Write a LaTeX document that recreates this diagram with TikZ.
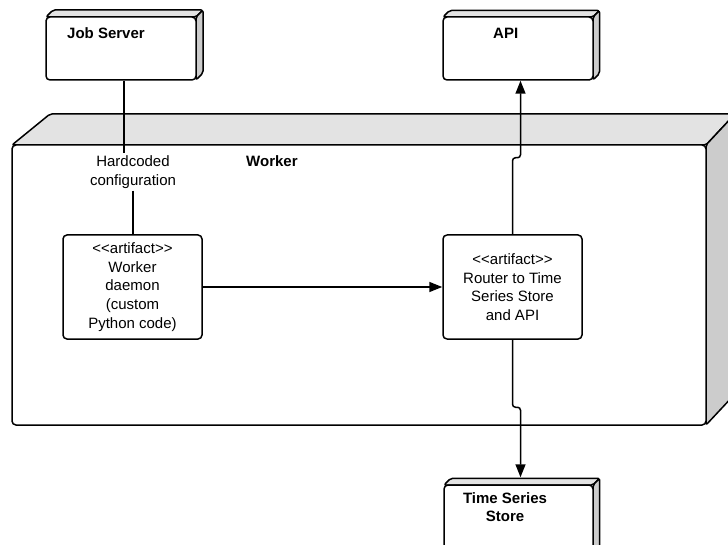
\documentclass[tikz,border=0pt]{standalone}
\usepackage{fontspec}
\setmainfont{Liberation Sans}[Ligatures=TeXOff]
\usetikzlibrary{arrows.meta,calc,fit}

\definecolor{bandgrey}{HTML}{E3E3E3}
\definecolor{sidegrey}{HTML}{CCCCCC}

\tikzset{
  outline/.style={draw=black, line width=1.5pt, line join=round},
  face/.style={outline, fill=white, rounded corners=4pt, inner sep=0pt},
  band/.style={outline, fill=bandgrey, rounded corners=2pt},
  side/.style={outline, fill=sidegrey, rounded corners=2pt},
  title/.style={font=\fontsize{15}{18.5}\selectfont\bfseries, inner sep=0pt},
  plain/.style={font=\fontsize{15}{18.7}\selectfont, align=center, inner sep=0pt},
  conn/.style={line width=1.5pt},
  flow/.style={conn, -{Triangle[length=13pt,width=10pt]}},
}

% UML node drawn as a box with a top band and a shaded right side
% #1 name, #2 #3 top-left of the front face, #4 #5 bottom-right, #6 depth
\newcommand\solidnode[6]{%
  \path[band] (#2,#3) -- (#2+#6,#3-#6) -- (#4+#6,#3-#6) -- (#4,#3) -- cycle;
  \path[side] (#4,#3) -- (#4+#6,#3-#6) -- (#4+#6,#5-#6) -- (#4,#5) -- cycle;
  \node[face, fit={(#2,#3) (#4,#5)}] (#1) {};
}

\begin{document}
\begin{tikzpicture}[x=1pt, y=-1pt]
  \useasboundingbox (0,0) rectangle (728,545);
  \fill[white] (0,0) rectangle (728,545);
  \clip (0,0) rectangle (728,545);

  % outer nodes
  \solidnode{js}{46}{17}{196}{80}{7}
  \solidnode{api}{443}{17}{593}{80}{6.5}
  \solidnode{ts}{444}{485}{593}{570}{6.7}

  % the Worker node
  \path[band] (12,145) -- (50,114) -- (735,114) -- (706,145) -- cycle;
  \path[side] (706,145) -- (735,114) -- (735,394) -- (706,425) -- cycle;
  \node[face, fit={(12,145) (706,425)}] (worker) {};

  % titles
  \node[title, anchor=base west] at (67,38.3) {Job Server};
  \node[title, anchor=base west] at (493,38.3) {API};
  \node[title, anchor=base west] at (246,166.5) {Worker};
  \node[title, align=center] at (505,507) {Time Series\\Store};

  % artifacts
  \node[face, plain, minimum width=139pt, minimum height=104pt] (art1) at (132.5,287)
    {<<artifact>>\\Worker\\daemon\\(custom\\Python code)};
  \node[face, plain, minimum width=139pt, minimum height=104pt] (art2) at (512.5,287)
    {<<artifact>>\\Router to Time\\Series Store\\and API};

  % configuration link
  \node[plain, inner sep=2pt] (hc) at (133,172) {Hardcoded\\configuration};
  \coordinate (jsOut) at ($(js.south)+(3,0)$);
  \draw[conn] (jsOut) -- (jsOut |- hc.north);
  \draw[conn] (hc.south) -- (hc.south |- art1.north);

  % data flow
  \draw[flow] (art1.east) -- (art2.west);
  \coordinate (apiIn) at ($(api.south)+(2.5,0)$);
  \draw[flow, rounded corners=3pt] (art2.north) |- ($(apiIn)+(0,77)$) -- (apiIn);
  \coordinate (tsIn) at ($(ts.north)+(2,-7)$);
  \draw[flow, rounded corners=3pt] (art2.south) |- ($(tsIn)+(0,-70)$) -- (tsIn);
\end{tikzpicture}
\end{document}
